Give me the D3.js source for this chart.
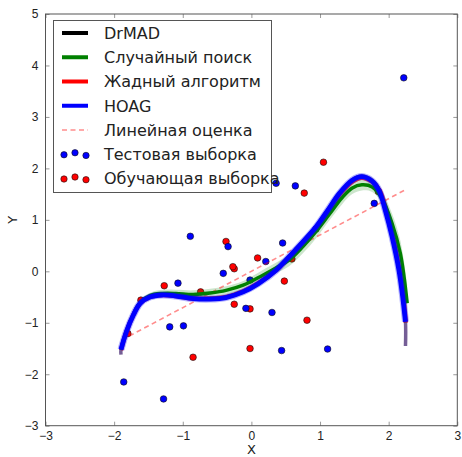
<!DOCTYPE html>
<html>
<head>
<meta charset="utf-8">
<script src="https://cdn.jsdelivr.net/npm/d3@7"></script>
<style>
  html, body { margin: 0; padding: 0; background: #fff; }
  svg { display: block; font-family: "DejaVu Sans", sans-serif; }
  .tick text { fill: #222; font-size: 12px; }
</style>
</head>
<body>
<svg id="chart" width="462" height="457"></svg>
<script>
// ─── data ───
const testX = [-1.86, -1.28, -1.19, -0.99, -1.07, -0.89, -0.41, -0.02, -0.08, 0.21, 0.30, 0.44, 1.11, 0.36, 0.64, 1.79, 2.22, -0.34, 0.455];
const testY = [-2.15, -2.48, -1.08, -1.06, -0.23, 0.68, -0.04, -0.17, -0.72, 0.19, -0.80, -1.54, -1.51, 1.71, 1.66, 1.32, 3.76, 0.48, 0.55];

const trainX = [-1.80, -1.61, -1.27, -0.74, -0.85, -0.37, -0.25, -0.27, -0.25, -0.02, -0.02, 0.09, 0.48, 0.59, 0.81, 0.94, 0.77, 1.05, 1.85];
const trainY = [-1.21, -0.56, -0.28, -0.40, -1.67, 0.58, 0.05, 0.09, -0.64, -0.73, -1.50, 0.26, -0.19, 0.24, -0.95, 0.82, 1.52, 2.12, 1.55];

const hoagX = [-1.90, -1.82, -1.72, -1.62, -1.48, -1.30, -1.10, -0.85, -0.60, -0.37, -0.12, 0.10, 0.36, 0.52, 0.70, 0.94, 1.13, 1.28, 1.47, 1.61, 1.76, 1.86, 1.95, 2.05, 2.15, 2.20, 2.245];
const hoagY = [-1.52, -1.17, -0.85, -0.62, -0.50, -0.46, -0.48, -0.53, -0.54, -0.51, -0.40, -0.24, 0.02, 0.24, 0.50, 0.86, 1.22, 1.51, 1.77, 1.84, 1.75, 1.57, 1.19, 0.67, 0.02, -0.45, -0.98];

const drmadX = [-1.90, -1.90, -1.82, -1.72, -1.62, -1.48, -1.30, -1.10, -0.85, -0.60, -0.37, -0.12, 0.10, 0.36, 0.52, 0.70, 0.94, 1.13, 1.28, 1.47, 1.61, 1.76, 1.86, 1.95, 2.05, 2.15, 2.20, 2.245, 2.245];
const drmadY = [-1.62, -1.52, -1.16, -0.84, -0.61, -0.49, -0.45, -0.47, -0.52, -0.53, -0.50, -0.39, -0.23, 0.03, 0.25, 0.51, 0.87, 1.23, 1.52, 1.78, 1.85, 1.77, 1.59, 1.22, 0.70, 0.05, -0.42, -0.98, -1.45];

const greedyX = [-1.90, -1.82, -1.72, -1.62, -1.48, -1.30, -1.10, -0.85, -0.60, -0.37, -0.12, 0.10, 0.36, 0.52, 0.70, 0.94, 1.13, 1.28, 1.47, 1.61, 1.76, 1.87, 1.96, 2.06, 2.16, 2.21, 2.25];
const greedyY = [-1.53, -1.17, -0.85, -0.62, -0.50, -0.46, -0.48, -0.53, -0.53, -0.50, -0.39, -0.23, 0.02, 0.23, 0.48, 0.83, 1.19, 1.48, 1.74, 1.82, 1.74, 1.57, 1.20, 0.68, 0.02, -0.45, -1.00];

const randX = [-1.90, -1.82, -1.72, -1.62, -1.48, -1.30, -1.10, -0.85, -0.60, -0.37, -0.12, 0.16, 0.35, 0.55, 0.75, 0.94, 1.13, 1.32, 1.47, 1.61, 1.76, 1.90, 2.05, 2.17, 2.27];
const randY = [-1.52, -1.16, -0.84, -0.60, -0.47, -0.43, -0.43, -0.45, -0.42, -0.37, -0.27, -0.08, 0.06, 0.22, 0.48, 0.77, 1.10, 1.43, 1.62, 1.68, 1.64, 1.42, 0.93, 0.35, -0.62];
const randLow = [-1.55, -1.20, -0.88, -0.65, -0.53, -0.50, -0.51, -0.53, -0.50, -0.45, -0.36, -0.17, -0.04, 0.10, 0.35, 0.64, 0.98, 1.30, 1.50, 1.57, 1.54, 1.32, 0.80, 0.15, -0.85];
const randHigh = [-1.50, -1.12, -0.80, -0.56, -0.42, -0.36, -0.36, -0.37, -0.34, -0.29, -0.19, 0.02, 0.16, 0.33, 0.60, 0.90, 1.23, 1.55, 1.73, 1.78, 1.74, 1.55, 1.12, 0.60, -0.25];

const linX = [-1.89, 2.265];
const linY = [-1.335, 1.60];

const xTicks = [-3, -2, -1, 0, 1, 2, 3];
const yTicks = [-3, -2, -1, 0, 1, 2, 3, 4, 5];

const legendLabels = ['DrMAD', 'Случайный поиск', 'Жадный алгоритм', 'HOAG', 'Линейная оценка', 'Тестовая выборка', 'Обучающая выборка'];
const legendDotDy = [0.5, -1.5, 1.2];

// ─── layout ───
const svg = d3.select('#chart');
const m = { left: 45.5, right: 457.3, top: 14, bottom: 425.7 };
const x = d3.scaleLinear().domain([-3, 3]).range([m.left, m.right]);
const y = d3.scaleLinear().domain([-3, 5]).range([m.bottom, m.top]);

const fmt = d => (d < 0 ? '\u2212' + Math.abs(d) : String(d));
const zip = (xs, ys) => xs.map((v, i) => [v, ys[i]]);

const plot = svg.append('g');
plot.append('clipPath').attr('id', 'clip')
  .append('rect').attr('x', m.left).attr('y', m.top)
  .attr('width', m.right - m.left).attr('height', m.bottom - m.top);
const body = plot.append('g').attr('clip-path', 'url(#clip)');

// scatter
const dot = (g, xs, ys, color) => {
  g.selectAll(null).data(zip(xs, ys)).enter().append('circle')
    .attr('cx', d => x(d[0])).attr('cy', d => y(d[1])).attr('r', 3.3)
    .attr('fill', color).attr('stroke', '#111').attr('stroke-width', 0.6);
};
dot(body, trainX, trainY, '#ff0000');
dot(body, testX, testY, '#0000ff');

// band + curves
const line = d3.line().x(d => x(d[0])).y(d => y(d[1])).curve(d3.curveCatmullRom.alpha(0.5));
const band = d3.area().x(d => x(d[0])).y0(d => y(d[1])).y1(d => y(d[2])).curve(d3.curveCatmullRom.alpha(0.5));

body.append('path').datum(randX.map((v, i) => [v, randLow[i], randHigh[i]]))
  .attr('d', band).attr('fill', '#008000').attr('fill-opacity', 0.2);

body.append('path').datum(zip(linX, linY)).attr('d', line)
  .attr('fill', 'none').attr('stroke', '#ff0000').attr('stroke-opacity', 0.45)
  .attr('stroke-width', 1.6).attr('stroke-dasharray', '5,3.5');

const curve = (xs, ys, color, w, op) => body.append('path').datum(zip(xs, ys)).attr('d', line)
  .attr('fill', 'none').attr('stroke', color).attr('stroke-width', w)
  .attr('stroke-opacity', op).attr('stroke-linejoin', 'round');

curve(greedyX, greedyY, '#ff0000', 4.5, 0.8);
curve(drmadX, drmadY, '#3a1a6a', 3.5, 0.7);
curve(randX, randY, '#008000', 3.5, 1);
curve(hoagX, hoagY, '#0000ff', 7, 0.3);
curve(hoagX, hoagY, '#0000ff', 4.8, 1);

// ─── axes ───
const axCol = '#555';
const addAxis = (axis, tx, ty, hideText) => {
  const g = plot.append('g').attr('transform', `translate(${tx},${ty})`).call(axis);
  g.select('.domain').remove();
  g.selectAll('.tick line').attr('stroke', '#999');
  if (hideText) g.selectAll('.tick text').remove();
  return g;
};
addAxis(d3.axisBottom(x).tickValues(xTicks).tickSize(-4).tickPadding(6).tickFormat(fmt), 0, m.bottom);
addAxis(d3.axisTop(x).tickValues(xTicks).tickSize(-4), 0, m.top, true);
addAxis(d3.axisLeft(y).tickValues(yTicks).tickSize(-4).tickPadding(7).tickFormat(fmt), m.left, 0);
addAxis(d3.axisRight(y).tickValues(yTicks).tickSize(-4), m.right, 0, true);

plot.append('rect').attr('x', m.left).attr('y', m.top)
  .attr('width', m.right - m.left).attr('height', m.bottom - m.top)
  .attr('fill', 'none').attr('stroke', axCol).attr('stroke-width', 1);

svg.append('text').attr('x', (m.left + m.right) / 2).attr('y', 454)
  .attr('text-anchor', 'middle').attr('font-size', 13).attr('fill', '#222').text('X');
svg.append('text').attr('transform', `translate(17,${(m.top + m.bottom) / 2}) rotate(-90)`)
  .attr('text-anchor', 'middle').attr('font-size', 13).attr('fill', '#222').text('Y');

// ─── legend ───
const lg = svg.append('g');
lg.append('rect').attr('x', 53.5).attr('y', 20.5).attr('width', 218).attr('height', 172)
  .attr('fill', '#fff').attr('stroke', '#555').attr('stroke-width', 1);
const rowY = i => 33 + i * 24.25;
const handleColors = ['#000', '#008000', '#ff0000', '#0000ff'];
handleColors.forEach((c, i) => {
  lg.append('line').attr('x1', 62).attr('x2', 88).attr('y1', rowY(i)).attr('y2', rowY(i))
    .attr('stroke', c).attr('stroke-width', 4);
});
lg.append('line').attr('x1', 62).attr('x2', 88).attr('y1', rowY(4)).attr('y2', rowY(4))
  .attr('stroke', '#ff0000').attr('stroke-opacity', 0.45).attr('stroke-width', 1.6)
  .attr('stroke-dasharray', '5,3.5');
[['#0000ff', 5], ['#ff0000', 6]].forEach(([c, row]) => {
  legendDotDy.forEach((dy, k) => {
    lg.append('circle').attr('cx', 64 + k * 11).attr('cy', rowY(row) + dy).attr('r', 3.2)
      .attr('fill', c).attr('stroke', '#111').attr('stroke-width', 0.6);
  });
});
legendLabels.forEach((t, i) => {
  lg.append('text').attr('x', 104).attr('y', rowY(i)).attr('dy', '0.36em')
    .attr('font-size', 16).attr('fill', '#222').text(t);
});
</script>
</body>
</html>
